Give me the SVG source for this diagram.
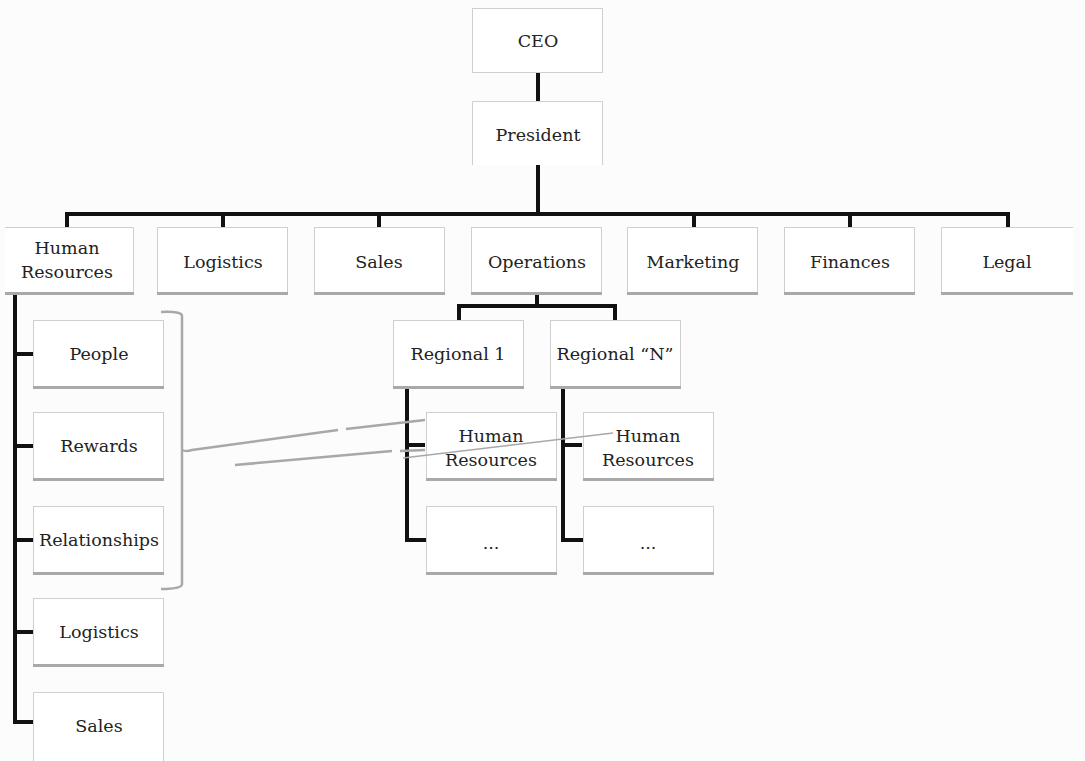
<svg xmlns="http://www.w3.org/2000/svg" width="1085" height="761" viewBox="0 0 1085 761">
  <style>
    .box { fill: #ffffff; stroke: #cfcfcf; stroke-width: 1; }
    .edge { fill: none; stroke: #cfcfcf; stroke-width: 1; }
    .shadow { stroke: #a9a9a9; stroke-width: 3; fill: none; }
    .lbl { font-family: "DejaVu Serif", "Liberation Serif", serif; font-size: 17.5px; fill: #222222; text-anchor: middle; dominant-baseline: central; }
    .wire { stroke: #111111; stroke-width: 4; fill: none; stroke-linecap: square; }
    .tick { stroke: #111111; stroke-width: 4; fill: none; }
    .note { stroke: #a8a8a8; fill: none; }
  </style>
  <rect width="1085" height="761" fill="#fcfcfc"/>

  <!-- tree connectors -->
  <g id="connectors">
    <path class="wire" d="M538 73 V101"/>
    <path class="wire" d="M538 165 V214"/>
    <path class="wire" d="M67 214 H1008"/>
    <path class="wire" d="M67 214 V227 M223 214 V227 M379 214 V227 M694 214 V227 M850 214 V227 M1008 214 V227"/>
    <path class="wire" d="M15 294 V722 H33"/>
    <path class="tick" d="M15 354 H33 M15 446 H33 M15 540 H33 M15 632 H33"/>
    <path class="wire" d="M537 294 V306 M459 306 H615 M459 306 V320 M615 306 V320"/>
    <path class="wire" d="M407 387 V540 H425"/>
    <path class="tick" d="M407 445 H425"/>
    <path class="wire" d="M563 387 V540 H582"/>
    <path class="tick" d="M563 445 H582"/>
  </g>

  <g id="ceo">
    <rect class="box" x="472.5" y="8.5" width="130" height="64"/>
    <text class="lbl" x="538" y="41">CEO</text>
  </g>
  <g id="president">
    <rect x="472" y="101" width="131" height="64" fill="#ffffff"/>
    <path class="edge" d="M472.5 165 V101.5 H602.5 V165"/>
    <text class="lbl" x="538" y="135">President</text>
  </g>

  <g id="hr">
    <rect x="5" y="228" width="128" height="65" fill="#ffffff"/>
    <path class="edge" d="M5 227.5 H133.5 V293"/>
    <path class="shadow" d="M5 293.5 H134"/>
    <text class="lbl" x="67" y="248">Human</text>
    <text class="lbl" x="67" y="272">Resources</text>
  </g>
  <g id="logistics">
    <rect class="box" x="157.5" y="227.5" width="130" height="65"/>
    <path class="shadow" d="M157 293.5 H288"/>
    <text class="lbl" x="223" y="262">Logistics</text>
  </g>
  <g id="sales">
    <rect class="box" x="314.5" y="227.5" width="130" height="65"/>
    <path class="shadow" d="M314 293.5 H445"/>
    <text class="lbl" x="379" y="262">Sales</text>
  </g>
  <g id="operations">
    <rect class="box" x="471.5" y="227.5" width="130" height="65"/>
    <path class="shadow" d="M471 293.5 H602"/>
    <text class="lbl" x="537" y="262">Operations</text>
  </g>
  <g id="marketing">
    <rect class="box" x="627.5" y="227.5" width="130" height="65"/>
    <path class="shadow" d="M627 293.5 H758"/>
    <text class="lbl" x="693" y="262">Marketing</text>
  </g>
  <g id="finances">
    <rect class="box" x="784.5" y="227.5" width="130" height="65"/>
    <path class="shadow" d="M784 293.5 H915"/>
    <text class="lbl" x="850" y="262">Finances</text>
  </g>
  <g id="legal">
    <rect x="941" y="227" width="132" height="66" fill="#ffffff"/>
    <path class="edge" d="M1073 227.5 H941.5 V292.5"/>
    <path class="shadow" d="M941 293.5 H1073"/>
    <text class="lbl" x="1007" y="262">Legal</text>
  </g>

  <g id="people">
    <rect class="box" x="33.5" y="320.5" width="130" height="66"/>
    <path class="shadow" d="M33 387.5 H164"/>
    <text class="lbl" x="99" y="354">People</text>
  </g>
  <g id="rewards">
    <rect class="box" x="33.5" y="412.5" width="130" height="66"/>
    <path class="shadow" d="M33 479.5 H164"/>
    <text class="lbl" x="99" y="446">Rewards</text>
  </g>
  <g id="relationships">
    <rect class="box" x="33.5" y="506.5" width="130" height="66"/>
    <path class="shadow" d="M33 573.5 H164"/>
    <text class="lbl" x="99" y="540">Relationships</text>
  </g>
  <g id="hr-logistics">
    <rect class="box" x="33.5" y="598.5" width="130" height="66"/>
    <path class="shadow" d="M33 665.5 H164"/>
    <text class="lbl" x="99" y="632">Logistics</text>
  </g>
  <g id="hr-sales">
    <rect x="33" y="692" width="131" height="69" fill="#ffffff"/>
    <path class="edge" d="M33.5 761 V692.5 H163.5 V761"/>
    <text class="lbl" x="99" y="726">Sales</text>
  </g>

  <g id="regional-1">
    <rect class="box" x="393.5" y="320.5" width="130" height="66"/>
    <path class="shadow" d="M393 387.5 H524"/>
    <text class="lbl" x="458" y="354">Regional 1</text>
  </g>
  <g id="regional-n">
    <rect class="box" x="550.5" y="320.5" width="130" height="66"/>
    <path class="shadow" d="M550 387.5 H681"/>
    <text class="lbl" x="615" y="354">Regional “N”</text>
  </g>

  <g id="regional-1-hr">
    <rect class="box" x="426.5" y="412.5" width="130" height="66"/>
    <path class="shadow" d="M426 479.5 H557"/>
    <text class="lbl" x="491" y="436">Human</text>
    <text class="lbl" x="491" y="460">Resources</text>
  </g>
  <g id="regional-1-more">
    <rect class="box" x="426.5" y="506.5" width="130" height="66"/>
    <path class="shadow" d="M426 573.5 H557"/>
    <text class="lbl" x="491" y="543">...</text>
  </g>
  <g id="regional-n-hr">
    <rect class="box" x="583.5" y="412.5" width="130" height="66"/>
    <path class="shadow" d="M583 479.5 H714"/>
    <text class="lbl" x="648" y="436">Human</text>
    <text class="lbl" x="648" y="460">Resources</text>
  </g>
  <g id="regional-n-more">
    <rect class="box" x="583.5" y="506.5" width="130" height="66"/>
    <path class="shadow" d="M583 573.5 H714"/>
    <text class="lbl" x="648" y="543">...</text>
  </g>

  <!-- grouping bracket and callout lines, drawn over the boxes -->
  <g id="callouts">
    <path class="note" stroke-width="2.5" d="M161 312 Q182 311 182 316 V584 Q182 589 161 589"/>
    <path class="note" stroke-width="2.5" d="M182 450 Q186 452 192 450 L338 430 M346 429 L425 420"/>
    <path class="note" stroke-width="2.5" d="M235 465 L392 451 M400 451 L425 450"/>
    <path class="note" stroke-width="1.5" d="M403 458 L613 433"/>
  </g>
</svg>
